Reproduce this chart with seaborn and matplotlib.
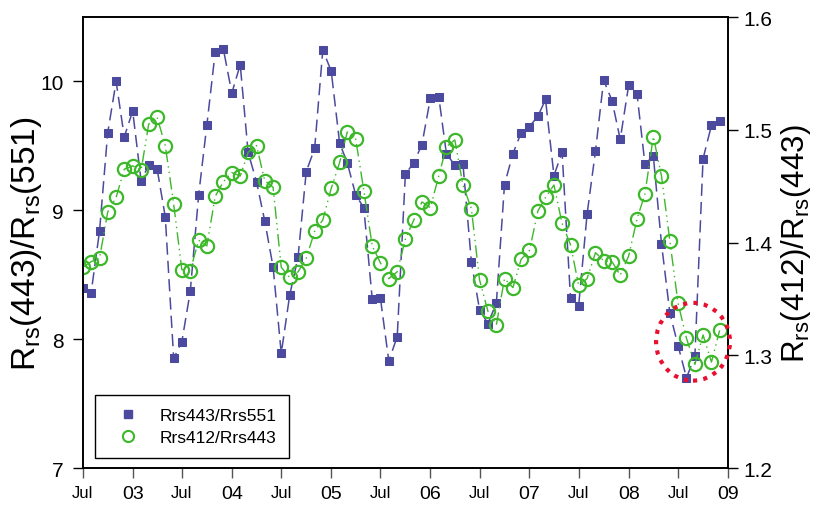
import pandas as pd
import matplotlib
matplotlib.use("Agg")
import matplotlib.pyplot as plt
import matplotlib.dates as mdates
import seaborn as sns
from matplotlib.lines import Line2D
from matplotlib.patches import Ellipse

sns.set_style("ticks")
plt.rcParams['font.family'] = ['Liberation Sans', 'DejaVu Sans']
plt.rcParams['mathtext.default'] = 'regular'
for k in ('text.color', 'axes.labelcolor', 'xtick.color', 'ytick.color', 'axes.edgecolor'):
    plt.rcParams[k] = 'black'

# monthly series, Jul 2002 - Dec 2008
months = pd.date_range("2002-07-01", periods=78, freq="MS")

rrs443_551 = [8.40, 8.36, 8.84, 9.60, 10.00, 9.57, 9.77, 9.23, 9.35, 9.32, 8.95, 7.85, 7.98,
              8.37, 9.12, 9.66, 10.23, 10.25, 9.91, 10.13, 9.45, 9.22, 8.92, 8.56, 7.89, 8.34,
              8.64, 9.30, 9.48, 10.245, 10.08, 9.52, 9.37, 9.12, 9.02, 8.31, 8.32, 7.83, 8.02,
              9.28, 9.37, 9.51, 9.87, 9.88, 9.44, 9.35, 9.36, 8.60, 8.23, 8.12, 8.28, 9.20,
              9.44, 9.60, 9.65, 9.73, 9.86, 9.27, 9.45, 8.32, 8.26, 8.97, 9.46, 10.01, 9.85,
              9.55, 9.97, 9.90, 9.36, 9.42, 8.74, 8.20, 7.95, 7.70, 7.87, 9.40, 9.66, 9.69]

rrs412_443 = [1.378, 1.383, 1.386, 1.427, 1.440, 1.465, 1.468, 1.464, 1.505, 1.511, 1.486, 1.434, 1.376,
              1.375, 1.402, 1.397, 1.441, 1.454, 1.462, 1.459, 1.480, 1.486, 1.455, 1.449, 1.378, 1.369,
              1.374, 1.386, 1.410, 1.420, 1.448, 1.471, 1.498, 1.492, 1.446, 1.397, 1.382, 1.368, 1.374,
              1.403, 1.420, 1.436, 1.431, 1.459, 1.485, 1.491, 1.451, 1.430, 1.367, 1.339, 1.327, 1.368,
              1.360, 1.385, 1.393, 1.428, 1.440, 1.451, 1.417, 1.398, 1.362, 1.368, 1.391, 1.384, 1.383,
              1.371, 1.388, 1.421, 1.443, 1.494, 1.459, 1.401, 1.346, 1.315, 1.292, 1.318, 1.294, 1.322]

tick_dates = pd.date_range("2002-07-01", "2009-01-01", freq="6MS")
tick_labels = ['Jul', '03', 'Jul', '04', 'Jul', '05', 'Jul', '06', 'Jul', '07', 'Jul', '08', 'Jul', '09']

blue = '#4B4A9E'
green = '#3DB82A'

df = pd.DataFrame({'month': months, 'r1': rrs443_551, 'r2': rrs412_443})

fig = plt.figure(figsize=(8.14, 5.06), dpi=100)
ax = fig.add_axes([0.1016, 0.0731, 0.7928, 0.8913])
ax2 = ax.twinx()

sns.lineplot(data=df, x='month', y='r1', ax=ax, color=blue, marker='s', markersize=6,
             markeredgecolor=blue, markerfacecolor=blue, linewidth=1.1,
             linestyle=(0, (8, 4)))
sns.lineplot(data=df, x='month', y='r2', ax=ax2, color=green, marker='o', markersize=9.5,
             markeredgecolor=green, markerfacecolor='none', markeredgewidth=1.6,
             linewidth=1.0, linestyle=(0, (9, 3, 1, 3, 1, 3)))

ax.set_ylim(7, 10.5)
ax.set_yticks([7, 8, 9, 10])
ax2.set_ylim(1.2, 1.6)
ax2.set_yticks([1.2, 1.3, 1.4, 1.5, 1.6])
ax.set_xlim(tick_dates[0], tick_dates[-1])
ax.set_xticks(tick_dates)
ax.set_xticklabels(tick_labels)
for lab in ax.get_xticklabels():
    lab.set_fontsize(12 if lab.get_text() == 'Jul' else 14)

ax.tick_params(axis='y', labelsize=15, length=7, width=1, pad=7)
ax2.tick_params(axis='y', labelsize=15, length=7, width=1, pad=4)
ax.tick_params(axis='x', length=7, width=1, pad=5, color='#555555')

for a in (ax, ax2):
    for s in a.spines.values():
        s.set_visible(True)
        s.set_color('black')
        s.set_linewidth(1.2)

ax.set_xlabel('')
ax.set_ylabel(r'R$_{rs}$(443)/R$_{rs}$(551)', fontsize=24)
ax.yaxis.set_label_coords(-0.06, 0.5)
ax2.set_ylabel(r'R$_{rs}$(412)/R$_{rs}$(443)', fontsize=22.5)
ax2.yaxis.set_label_coords(1.079, 0.5)

# red dotted circle marking the late-2008 anomaly
circ = Ellipse((mdates.date2num(pd.Timestamp("2008-08-25")), 1.312), width=272, height=0.069,
               fill=False, edgecolor='#E8102E', linestyle=(0, (1, 1.5)), linewidth=3,
               clip_on=False, zorder=5)
ax2.add_patch(circ)

handles = [Line2D([], [], linestyle='none', marker='s', markersize=5.5, color=blue),
           Line2D([], [], linestyle='none', marker='o', markersize=8, markerfacecolor='none',
                  markeredgecolor=green, markeredgewidth=1.5)]
leg = ax2.legend(handles, ['Rrs443/Rrs551', 'Rrs412/Rrs443'], loc='lower left',
                 bbox_to_anchor=(0.019, 0.022), borderaxespad=0, fontsize=12.5,
                 frameon=True, fancybox=False, framealpha=1, edgecolor='black',
                 borderpad=0.75, labelspacing=0.38, handlelength=2.3, handletextpad=0.65)
leg.get_frame().set_linewidth(1.0)

fig.savefig('out.png', dpi=100)
